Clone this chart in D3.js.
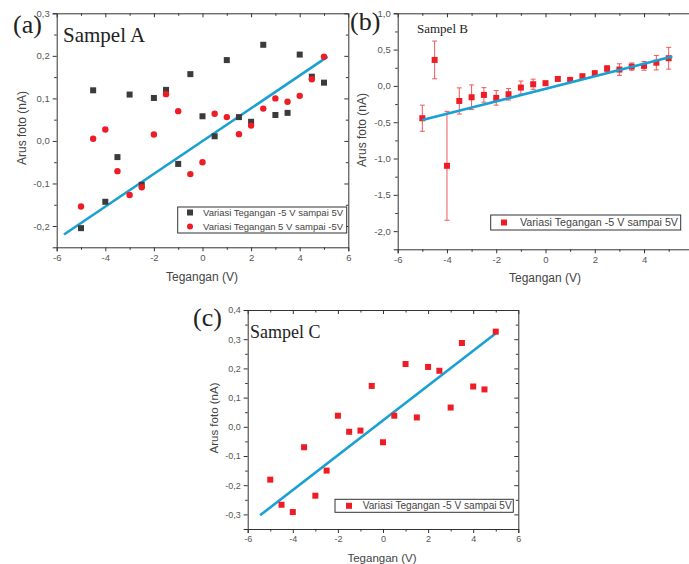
<!DOCTYPE html>
<html>
  <head>
    <title>Arus foto</title>
    <script src="https://cdn.jsdelivr.net/npm/d3@7"></script>
    <style>
      body { margin: 0; background: #fff; }
      .tick text { font-family: "Liberation Sans", Arial, sans-serif; fill: #555; }
      .domain, .tick line { stroke: #333; }
    </style>
  </head>
  <body>
    <svg width="689" height="564" id="mainsvg"></svg>
    <script>
      const svg = d3.select('#mainsvg');

      // tegangan (V), same for all three samples
      const volts = [-5, -4.5, -4, -3.5, -3, -2.5, -2, -1.5, -1, -0.5, 0, 0.5, 1, 1.5, 2, 2.5, 3, 3.5, 4, 4.5, 5];

      // Sampel A
      const aUp = [-0.205, 0.119, -0.143, -0.038, 0.109, -0.103, 0.101, 0.12, -0.054, 0.157, 0.058,
                   0.011, 0.19, 0.056, 0.045, 0.226, 0.061, 0.066, 0.203, 0.151, 0.137];
      const aDown = [-0.154, 0.005, 0.027, -0.071, -0.127, -0.109, 0.015, 0.11, 0.07, -0.078, -0.05,
                     0.064, 0.056, 0.016, 0.036, 0.076, 0.1, 0.092, 0.106, 0.145, 0.198];
      const aFitX = [-5.7, 5.15];
      const aFitY = [-0.22, 0.198];

      // Sampel B
      const bVal = [-0.445, 0.358, -1.1, -0.207, -0.156, -0.124, -0.165, -0.115, -0.023, 0.023, 0.037,
                    0.096, 0.083, 0.133, 0.175, 0.239, 0.225, 0.266, 0.276, 0.32, 0.381];
      const bErr = [0.18, 0.26, 0.75, 0.18, 0.17, 0.1, 0.1, 0.08, 0.09, 0.07, 0.03,
                    0.02, 0.02, 0.03, 0.03, 0.04, 0.08, 0.05, 0.06, 0.1, 0.15];
      const bFitX = [-5, 5.15];
      const bFitY = [-0.47, 0.404];

      // Sampel C
      const cVal = [-0.181, -0.267, -0.292, -0.07, -0.236, -0.15, 0.038, -0.017, -0.013, 0.14, -0.053,
                    0.038, 0.215, 0.032, 0.205, 0.192, 0.066, 0.287, 0.138, 0.128, 0.326];
      const cFitX = [-5.45, 5.05];
      const cFitY = [-0.303, 0.323];

      const xTicks = [-6, -4, -2, 0, 2, 4, 6];
      const xTicksB = [-6, -4, -2, 0, 2, 4];
      const xMinor = [-5, -3, -1, 1, 3, 5];
      const aTicks = [-0.2, -0.1, 0, 0.1, 0.2, 0.3];
      const bTicks = [-2, -1.5, -1, -0.5, 0, 0.5, 1];
      const cTicks = [-0.3, -0.2, -0.1, 0, 0.1, 0.2, 0.3, 0.4];

      const legUp = 'Variasi Tegangan -5 V sampai 5V';
      const legDown = 'Variasi Tegangan 5 V sampai -5V';

      const BLACK = '#3b3b3b', RED = '#ee1c25', ERR = '#f0585c', BLUE = '#1aa0d2';
      const SANS = '"Liberation Sans", Arial, sans-serif';
      const SERIF = '"Liberation Serif", "Times New Roman", serif';

      const commaFmt = d => d3.format('.1f')(d).replace('.', ',').replace('−', '-');
      const intFmt = d => String(d);

      const minorOf = (ticks) => {
        const out = [];
        for (let i = 0; i < ticks.length - 1; i++) out.push((ticks[i] + ticks[i + 1]) / 2);
        return out;
      };

      const panel = function(cfg) {
        const x = d3.scaleLinear().domain([-6, 6]).range(cfg.xRange);
        const y = d3.scaleLinear().domain(cfg.yDomain).range(cfg.yRange);
        const g = svg.append('g');
        const [x0, x1] = cfg.xRange;
        const [y0, y1] = cfg.yRange;

        // bottom axis (outward ticks)
        const bx = g.append('g').attr('transform', `translate(0,${y0})`)
          .call(d3.axisBottom(x).tickValues(cfg.xTicks).tickSize(4).tickPadding(3).tickFormat(intFmt));
        bx.selectAll('text').attr('font-size', cfg.tickFont);
        g.append('g').attr('transform', `translate(0,${y0})`)
          .call(d3.axisBottom(x).tickValues(xMinor).tickSize(2.5).tickFormat(''))
          .select('.domain').remove();

        // left axis (outward ticks)
        const ly = g.append('g').attr('transform', `translate(${x0},0)`)
          .call(d3.axisLeft(y).tickValues(cfg.yTicks).tickSize(4).tickPadding(3).tickFormat(commaFmt));
        ly.selectAll('text').attr('font-size', cfg.tickFont);
        g.append('g').attr('transform', `translate(${x0},0)`)
          .call(d3.axisLeft(y).tickValues(minorOf(cfg.yTicks)).tickSize(2.5).tickFormat(''))
          .select('.domain').remove();

        // top and right frame with inward ticks
        g.append('g').attr('transform', `translate(0,${y1})`)
          .call(d3.axisBottom(x).tickValues(cfg.xTicks).tickSizeInner(4).tickSizeOuter(0).tickFormat(''));
        g.append('g').attr('transform', `translate(0,${y1})`)
          .call(d3.axisBottom(x).tickValues(xMinor).tickSize(2.5).tickFormat(''))
          .select('.domain').remove();
        g.append('g').attr('transform', `translate(${x1},0)`)
          .call(d3.axisLeft(y).tickValues(cfg.yTicks).tickSizeInner(4).tickSizeOuter(0).tickFormat(''));
        g.append('g').attr('transform', `translate(${x1},0)`)
          .call(d3.axisLeft(y).tickValues(minorOf(cfg.yTicks)).tickSize(2.5).tickFormat(''))
          .select('.domain').remove();

        // axis titles
        g.append('text')
          .attr('x', cfg.xTitle[0]).attr('y', cfg.xTitle[1])
          .attr('text-anchor', 'middle').attr('font-family', SANS)
          .attr('font-size', cfg.titleFont).attr('fill', '#444')
          .text('Tegangan (V)');
        g.append('text')
          .attr('transform', `translate(${cfg.yTitle[0]},${cfg.yTitle[1]}) rotate(-90)`)
          .attr('text-anchor', 'middle').attr('font-family', SANS)
          .attr('font-size', cfg.titleFont).attr('fill', '#444')
          .text('Arus foto (nA)');

        return {g, x, y};
      };

      const fitLine = (p, xs, ys) => {
        p.g.append('line')
          .attr('x1', p.x(xs[0])).attr('y1', p.y(ys[0]))
          .attr('x2', p.x(xs[1])).attr('y2', p.y(ys[1]))
          .attr('stroke', BLUE).attr('stroke-width', 2.6);
      };

      const squares = (p, vals, color, s) => {
        p.g.append('g').selectAll('rect')
          .data(vals)
          .join('rect')
          .attr('x', (d, i) => p.x(volts[i]) - s / 2)
          .attr('y', d => p.y(d) - s / 2)
          .attr('width', s).attr('height', s)
          .attr('fill', color);
      };

      const legend = (p, box, rows) => {
        p.g.append('rect')
          .attr('x', box[0]).attr('y', box[1]).attr('width', box[2]).attr('height', box[3])
          .attr('fill', '#fff').attr('stroke', '#333').attr('stroke-width', 1);
        rows.forEach(r => {
          if (r.shape === 'circle') {
            p.g.append('circle').attr('cx', r.mx).attr('cy', r.my).attr('r', 3).attr('fill', r.color);
          } else {
            p.g.append('rect').attr('x', r.mx - 3).attr('y', r.my - 3).attr('width', 6).attr('height', 6).attr('fill', r.color);
          }
          p.g.append('text')
            .attr('x', r.tx).attr('y', r.my).attr('dy', '0.35em')
            .attr('font-family', SANS).attr('font-size', r.size).attr('fill', '#444')
            .attr('textLength', r.len).attr('lengthAdjust', 'spacingAndGlyphs')
            .text(r.text);
        });
      };

      const label = (x, y, size, text) => {
        svg.append('text').attr('x', x).attr('y', y)
          .attr('font-family', SERIF).attr('font-size', size).attr('fill', '#222')
          .text(text);
      };

      // ---- panel (a)
      const pa = panel({
        xRange: [56.7, 348.3], yDomain: [-0.25, 0.3], yRange: [247.3, 13.3],
        xTicks: xTicks, yTicks: aTicks, tickFont: 9.5, titleFont: 12,
        xTitle: [202, 281], yTitle: [26, 128]
      });
      fitLine(pa, aFitX, aFitY);
      squares(pa, aUp, BLACK, 6);
      pa.g.append('g').selectAll('circle')
        .data(aDown)
        .join('circle')
        .attr('cx', (d, i) => pa.x(volts[i]))
        .attr('cy', d => pa.y(d))
        .attr('r', 3.2)
        .attr('fill', RED);
      legend(pa, [177.7, 207, 169, 26], [
        {shape: 'square', color: BLACK, mx: 190, my: 212.5, tx: 203, size: 9.5, len: 140, text: legUp},
        {shape: 'circle', color: RED, mx: 190, my: 226.5, tx: 203, size: 9.5, len: 140, text: legDown}
      ]);
      label(13, 33, 26, '(a)');
      label(63, 42, 21, 'Sampel A');

      // ---- panel (b)
      const pb = panel({
        xRange: [397.7, 693.3], yDomain: [-2.25, 1.0], yRange: [249.3, 13.3],
        xTicks: xTicksB, yTicks: bTicks, tickFont: 9.5, titleFont: 12,
        xTitle: [545, 282], yTitle: [366, 130]
      });
      const eb = pb.g.append('g').attr('stroke', ERR).attr('stroke-width', 1);
      bVal.forEach((d, i) => {
        const cx = pb.x(volts[i]);
        const yt = pb.y(d + bErr[i]), yb = pb.y(d - bErr[i]);
        eb.append('line').attr('x1', cx).attr('x2', cx).attr('y1', yt).attr('y2', yb);
        eb.append('line').attr('x1', cx - 2.5).attr('x2', cx + 2.5).attr('y1', yt).attr('y2', yt);
        eb.append('line').attr('x1', cx - 2.5).attr('x2', cx + 2.5).attr('y1', yb).attr('y2', yb);
      });
      squares(pb, bVal, RED, 6);
      fitLine(pb, bFitX, bFitY);
      legend(pb, [490.7, 215, 190, 15], [
        {shape: 'square', color: RED, mx: 504, my: 222.5, tx: 520, size: 11, len: 158, text: legUp}
      ]);
      label(350, 30, 26, '(b)');
      label(417, 33, 13, 'Sampel B');

      // ---- panel (c)
      const pc = panel({
        xRange: [247.7, 518.3], yDomain: [-0.35, 0.4], yRange: [529, 310],
        xTicks: xTicks, yTicks: cTicks, tickFont: 9, titleFont: 11.5,
        xTitle: [382, 562], yTitle: [218, 418]
      });
      fitLine(pc, cFitX, cFitY);
      squares(pc, cVal, RED, 6);
      legend(pc, [335, 499.3, 178.3, 13], [
        {shape: 'square', color: RED, mx: 349, my: 505.8, tx: 362.7, size: 10.5, len: 149, text: legUp}
      ]);
      label(193, 326, 26, '(c)');
      label(250, 338, 18, 'Sampel C');
    </script>
  </body>
</html>
